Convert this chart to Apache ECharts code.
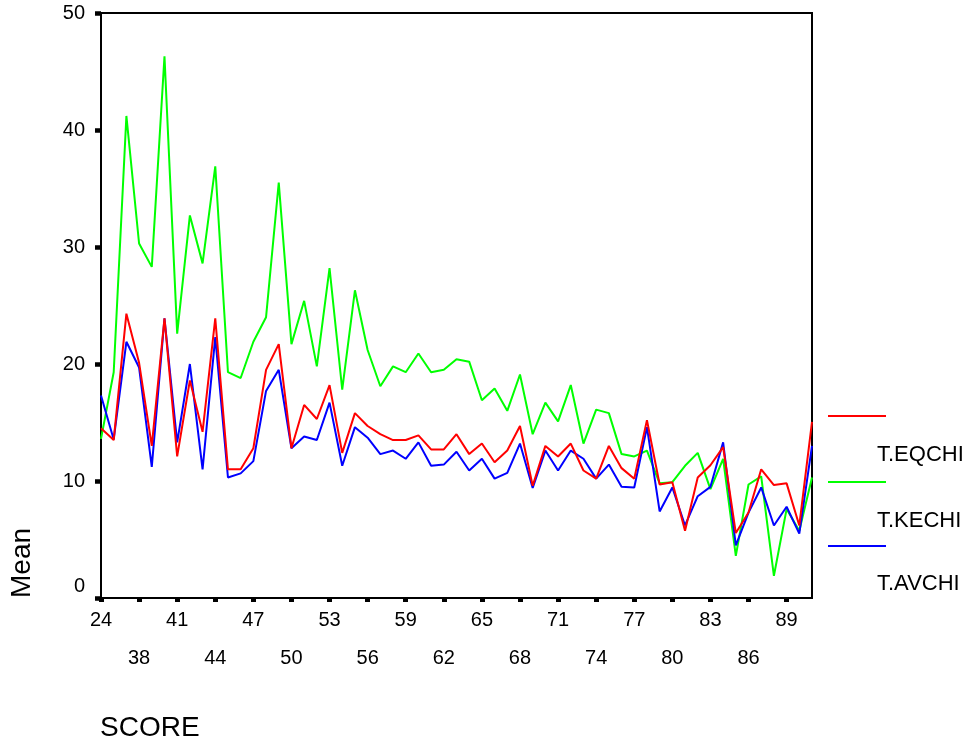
<!DOCTYPE html>
<html>
<head>
<meta charset="utf-8">
<style>
  html, body { margin: 0; padding: 0; background: #fff; }
  #chart { width: 969px; height: 744px; }
</style>
<script src="https://cdn.jsdelivr.net/npm/echarts@6/dist/echarts.min.js"></script>
</head>
<body>
<div id="chart"></div>
<script>
// Categories (SCORE values); indices 1 and 2 are never labelled in the reference
const categories = ['24', '33', '36',
  '38','39','40','41','42','43','44','45','46','47','48','49','50','51','52','53','54','55','56','57','58','59','60',
  '61','62','63','64','65','66','67','68','69','70','71','72','73','74','75','76','77','78','79','80','81','82','83',
  '84','85','86','87','88','89','90','91'];

const eqchi = [14.5, 13.5, 24.3, 20.1, 13.0, 23.9, 12.1, 18.6, 14.2, 23.9,
  11.0, 11.0, 12.8, 19.5, 21.7, 12.8, 16.5, 15.3, 18.2, 12.4,
  15.8, 14.7, 14.0, 13.5, 13.5, 13.9, 12.7, 12.7, 14.0, 12.3,
  13.2, 11.6, 12.6, 14.7, 9.6, 13.0, 12.1, 13.2, 10.9, 10.2,
  13.0, 11.1, 10.2, 15.2, 9.7, 9.9, 5.75, 10.3, 11.35, 12.9,
  5.55, 7.3, 11.0, 9.65, 9.8, 6.2, 15.05];

const kechi = [13.6, 19.3, 41.2, 30.3, 28.3, 46.3, 22.6, 32.7, 28.6, 36.9,
  19.3, 18.8, 21.9, 24.0, 35.5, 21.7, 25.4, 19.8, 28.2, 17.8,
  26.3, 21.2, 18.1, 19.8, 19.3, 20.9, 19.3, 19.5, 20.4, 20.2,
  16.9, 17.9, 16.0, 19.1, 14.0, 16.7, 15.1, 18.2, 13.2, 16.1,
  15.8, 12.3, 12.1, 12.6, 9.8, 9.9, 11.3, 12.4, 9.3, 11.9,
  3.6, 9.7, 10.4, 1.9, 7.6, 5.75, 10.3];

const avchi = [17.3, 13.55, 21.9, 19.7, 11.2, 23.9, 13.3, 20.0, 11.0, 22.3,
  10.3, 10.65, 11.7, 17.7, 19.5, 12.8, 13.8, 13.5, 16.7, 11.3,
  14.6, 13.7, 12.3, 12.6, 11.9, 13.3, 11.3, 11.4, 12.5, 10.9,
  11.9, 10.2, 10.7, 13.2, 9.4, 12.6, 10.9, 12.6, 11.9, 10.2,
  11.4, 9.5, 9.45, 14.6, 7.4, 9.45, 6.2, 8.7, 9.5, 13.3,
  4.5, 7.3, 9.45, 6.2, 7.8, 5.5, 13.0];

const seriesNames = ['T.EQCHI', 'T.KECHI', 'T.AVCHI'];
const seriesColors = ['#ff0000', '#00ff00', '#0000ff'];
const yTicks = [0, 10, 20, 30, 40, 50];

const FONT = 'Liberation Sans, Arial, sans-serif';
const chart = echarts.init(document.getElementById('chart'));

const legendGraphics = [];
const legendY = [416, 482, 546];
const legendTextY = [455, 521, 584];
seriesNames.forEach((n, k) => {
  legendGraphics.push({
    type: 'line',
    shape: { x1: 828, y1: legendY[k], x2: 886, y2: legendY[k] },
    style: { stroke: seriesColors[k], lineWidth: 2 }
  });
  legendGraphics.push({
    type: 'text',
    x: 877, y: legendTextY[k],
    style: { text: n, fill: '#000', font: '22px ' + FONT, textAlign: 'left', textVerticalAlign: 'middle' }
  });
});

const option = {
  animation: false,
  backgroundColor: '#fff',
  grid: {
    left: 101, right: 157, top: 13, bottom: 146,
    show: true, borderColor: '#000', borderWidth: 2, backgroundColor: 'transparent'
  },
  xAxis: {
    type: 'category',
    data: categories,
    boundaryGap: false,
    axisLine: { lineStyle: { color: '#000', width: 2 } },
    axisTick: { show: true, interval: 2, length: 4, lineStyle: { color: '#000', width: 5 } },
    axisLabel: {
      interval: 2,
      color: '#000',
      fontFamily: FONT,
      fontSize: 20,
      margin: 12,
      formatter: function (value, index) {
        const k = Math.round(index / 3);
        return (k % 2 === 0 ? '{a|' : '{b|') + value + '}';
      },
      rich: {
        a: { fontSize: 20, fontFamily: FONT, color: '#000' },
        b: { fontSize: 20, fontFamily: FONT, color: '#000', padding: [38, 0, 0, 0] }
      }
    },
    splitLine: { show: false }
  },
  yAxis: {
    type: 'value',
    min: yTicks[0],
    max: yTicks[yTicks.length - 1],
    interval: 10,
    axisLine: { show: true, lineStyle: { color: '#000', width: 2 } },
    axisTick: { show: true, length: 6, lineStyle: { color: '#000', width: 4.5 } },
    axisLabel: {
      color: '#000',
      fontFamily: FONT,
      fontSize: 20,
      margin: 16,
      formatter: function (v) {
        return v === 0 ? '{z|0}' : '{n|' + v + '}';
      },
      rich: {
        z: { fontSize: 20, fontFamily: FONT, color: '#000', padding: [0, 0, 24, 0] },
        n: { fontSize: 20, fontFamily: FONT, color: '#000' }
      }
    },
    splitLine: { show: false }
  },
  graphic: [
    {
      type: 'text',
      x: 22, y: 598,
      rotation: Math.PI / 2,
      style: { text: 'Mean', fill: '#000', font: '28px ' + FONT, textAlign: 'left', textVerticalAlign: 'middle' }
    },
    {
      type: 'text',
      x: 100, y: 728,
      style: { text: 'SCORE', fill: '#000', font: '28px ' + FONT, textAlign: 'left', textVerticalAlign: 'middle' }
    }
  ].concat(legendGraphics),
  series: [
    { name: seriesNames[1], type: 'line', data: kechi, showSymbol: false, symbol: 'none',
      lineStyle: { color: seriesColors[1], width: 2 }, itemStyle: { color: seriesColors[1] } },
    { name: seriesNames[2], type: 'line', data: avchi, showSymbol: false, symbol: 'none',
      lineStyle: { color: seriesColors[2], width: 2 }, itemStyle: { color: seriesColors[2] } },
    { name: seriesNames[0], type: 'line', data: eqchi, showSymbol: false, symbol: 'none',
      lineStyle: { color: seriesColors[0], width: 2 }, itemStyle: { color: seriesColors[0] } }
  ]
};
chart.setOption(option);
</script>
</body>
</html>
